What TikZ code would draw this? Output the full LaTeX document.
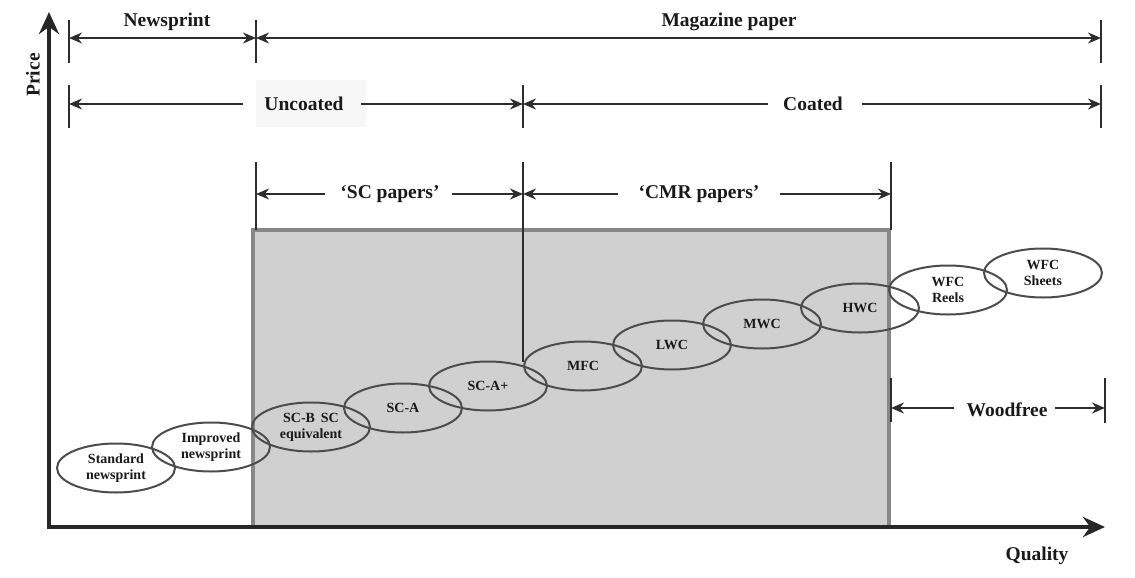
\documentclass[tikz,border=0pt]{standalone}
\usepackage{fontspec}
\setmainfont{Liberation Serif}
\usetikzlibrary{arrows.meta,shapes.geometric}
\definecolor{boxfill}{RGB}{208,208,208}
\definecolor{boxedge}{RGB}{135,135,135}
\definecolor{ink}{RGB}{45,45,45}
\begin{document}
\begin{tikzpicture}[x=1pt,y=-1pt,
  lbl/.style={font=\fontsize{19.5}{22}\selectfont\bfseries, text=black!90, inner sep=2pt},
  oval/.style={ellipse, draw=ink!85, line width=2pt, minimum width=118pt, minimum height=49pt,
    inner sep=0pt, align=center, font=\fontsize{14}{16}\selectfont\bfseries, text=black!90},
  dim/.style={draw=ink, line width=1.8pt},
  tip/.style={-{Stealth[length=13pt,width=11pt]}},
  tick/.style={draw=ink, line width=1.6pt},
  axis/.style={draw=black!85, line width=4.5pt, -{Stealth[length=22pt,width=20pt]}}
]
\useasboundingbox (0,0) rectangle (1135,578);

% shaded region
\fill[boxfill] (253,230) rectangle (889,527);
\draw[boxedge, line width=4pt] (253,527) -- (253,230) -- (889,230) -- (889,527);

% tick coordinates
\coordinate (a1t) at (69,20);  \coordinate (a1b) at (69,63);
\coordinate (b1t) at (256,20); \coordinate (b1b) at (256,63);
\coordinate (c1t) at (1101,20);\coordinate (c1b) at (1101,63);
\coordinate (a2t) at (69,85);  \coordinate (a2b) at (69,128);
\coordinate (b2t) at (523,85); \coordinate (b2b) at (523,128);
\coordinate (c2t) at (1101,85);\coordinate (c2b) at (1101,128);
\coordinate (a3t) at (256,162);\coordinate (a3b) at (256,230);
\coordinate (b3t) at (523,162);\coordinate (b3b) at (523,362);
\coordinate (c3t) at (891,162);\coordinate (c3b) at (891,230);
\coordinate (a4t) at (891,378);\coordinate (a4b) at (891,422);
\coordinate (b4t) at (1105,378);\coordinate (b4b) at (1105,423);

\foreach \p in {a1,b1,c1,a2,b2,c2,a3,b3,c3,a4,b4}
  \draw[tick] (\p t) -- (\p b);

% arrow-line anchor points on the ticks
\coordinate (r1a) at (69,38);  \coordinate (r1b) at (256,38);  \coordinate (r1c) at (1101,38);
\coordinate (r2a) at (69,104); \coordinate (r2b) at (523,104); \coordinate (r2c) at (1101,104);
\coordinate (r3a) at (256,194);\coordinate (r3b) at (523,194); \coordinate (r3c) at (891,194);
\coordinate (r4a) at (891,408);\coordinate (r4b) at (1105,408);

% labels
\node[lbl] (newsprint) at (167,22) {Newsprint};
\node[lbl] (magazine) at (729,22) {Magazine paper};
\fill[black!3] (256,80) rectangle (366,127);
\node[lbl] (uncoated) at (304,104) {Uncoated};
\node[lbl] (coated) at (813,104) {Coated};
\node[lbl] (scp) at (390,194) {‘SC papers’};
\node[lbl] (cmr) at (699,194) {‘CMR papers’};
\node[lbl] (woodfree) at (1007,410) {Woodfree};
\node[lbl, rotate=90] (price) at (33,75) {Price};
\node[lbl] (quality) at (1037,556) {Quality};

% row 1
\draw[dim,{Stealth[length=13pt,width=11pt]}-{Stealth[length=13pt,width=11pt]}] (r1a) -- (r1b);
\draw[dim,{Stealth[length=13pt,width=11pt]}-{Stealth[length=13pt,width=11pt]}] (r1b) -- (r1c);
% row 2
\draw[dim,tip] (uncoated.west |- r2a) ++(-19,0) -- (r2a);
\draw[dim,tip] (uncoated.east |- r2a) ++(15,0) -- (r2b);
\draw[dim,tip] (coated.west |- r2a) ++(-13,0) -- (r2b);
\draw[dim,tip] (coated.east |- r2a) ++(17,0) -- (r2c);
% row 3
\draw[dim,tip] (scp.west |- r3a) ++(-13,0) -- (r3a);
\draw[dim,tip] (scp.east |- r3a) ++(10,0) -- (r3b);
\draw[dim,tip] (cmr.west |- r3a) ++(-18,0) -- (r3b);
\draw[dim,tip] (cmr.east |- r3a) ++(18,0) -- (r3c);
% row 4
\draw[dim,tip] (woodfree.west |- r4a) ++(-10,0) -- (r4a);
\draw[dim,tip] (woodfree.east |- r4a) ++(5,0) -- (r4b);

% ellipses
\node[oval] (std) at (116,468) {Standard\\newsprint};
\node[oval] (imp) at (211,447) {Improved\\newsprint};
\node[oval] (scb) at (311,427) {SC-B\, SC\\equivalent};
\node[oval] (sca) at (403,408) {SC-A};
\node[oval] (scap) at (488,386) {SC-A+};
\node[oval] (mfc) at (583,366) {MFC};
\node[oval] (lwc) at (672,345) {LWC};
\node[oval] (mwc) at (762,324) {MWC};
\node[oval] (hwc) at (860,308) {HWC};
\node[oval] (wfcr) at (948,290) {WFC\\Reels};
\node[oval] (wfcs) at (1043,273) {WFC\\Sheets};

% axes
\coordinate (origin) at (49,527);
\coordinate (ytop) at (49,12);
\coordinate (xend) at (1105,527);
\draw[axis] (origin) -- (ytop);
\draw[axis] ([xshift=-2pt]origin) -- (xend);
\end{tikzpicture}
\end{document}
